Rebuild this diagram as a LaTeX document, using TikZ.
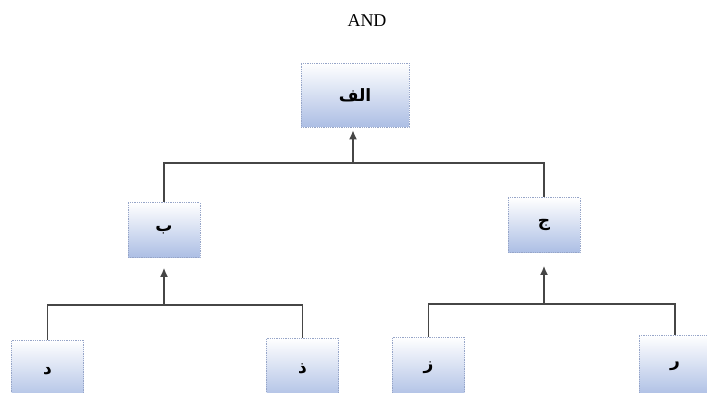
\documentclass[tikz,border=0pt]{standalone}
\usepackage{fontspec}
\setmainfont{Liberation Serif}
\newfontfamily\arabicfont[Script=Arabic]{DejaVu Sans}
\TeXXeTstate=1
\usetikzlibrary{arrows.meta}
\definecolor{boxblue}{RGB}{172,190,228}
\definecolor{boxedge}{RGB}{150,165,200}
\definecolor{linegray}{RGB}{70,70,70}
\tikzset{
  box/.style={draw=boxedge, densely dotted, line width=0.8pt, top color=white, bottom color=boxblue,
    minimum width=72pt, minimum height=55pt, inner sep=0pt,
    font=\arabicfont\bfseries\fontsize{17}{20}\selectfont},
  link/.style={draw=linegray, line width=1.4pt},
  uparrow/.style={link, -{Latex[length=9pt,width=8pt]}}
}
\begin{document}
\begin{tikzpicture}[x=1pt,y=-1pt]
\useasboundingbox (0,0) rectangle (707,393);
\clip (0,0) rectangle (707,393);
\node[font=\fontsize{18}{20}\selectfont] (title) at (367,21) {AND};
\node[box, minimum width=108pt, minimum height=64pt] (a) at (355,95) {\beginR الف\endR};
\node[box] (b) at (164,230) {\beginR ب\endR};
\node[box] (c) at (544,225) {\beginR ج\endR};
\node[box, minimum height=62pt] (d) at (47.5,371) {\beginR د\endR};
\node[box, minimum height=62pt] (e) at (302.5,369) {\beginR ذ\endR};
\node[box, minimum height=62pt] (f) at (428.5,368) {\beginR ز\endR};
\node[box, minimum height=62pt] (g) at (675,366) {\beginR ر\endR};
\coordinate (j1) at (353,163);
\coordinate (j2) at (164,305);
\coordinate (j3) at (544,304);
\draw[link] (b.north) |- (j1) -| (c.north);
\draw[uparrow, shorten >=3pt] (j1) -- (j1 |- a.south);
\draw[link] (d.north) |- (j2) -| (e.north);
\draw[uparrow, shorten >=10pt] (j2) -- (b.south);
\draw[link] (f.north) |- (j3) -| (g.north);
\draw[uparrow, shorten >=13pt] (j3) -- (c.south);
\end{tikzpicture}
\end{document}
